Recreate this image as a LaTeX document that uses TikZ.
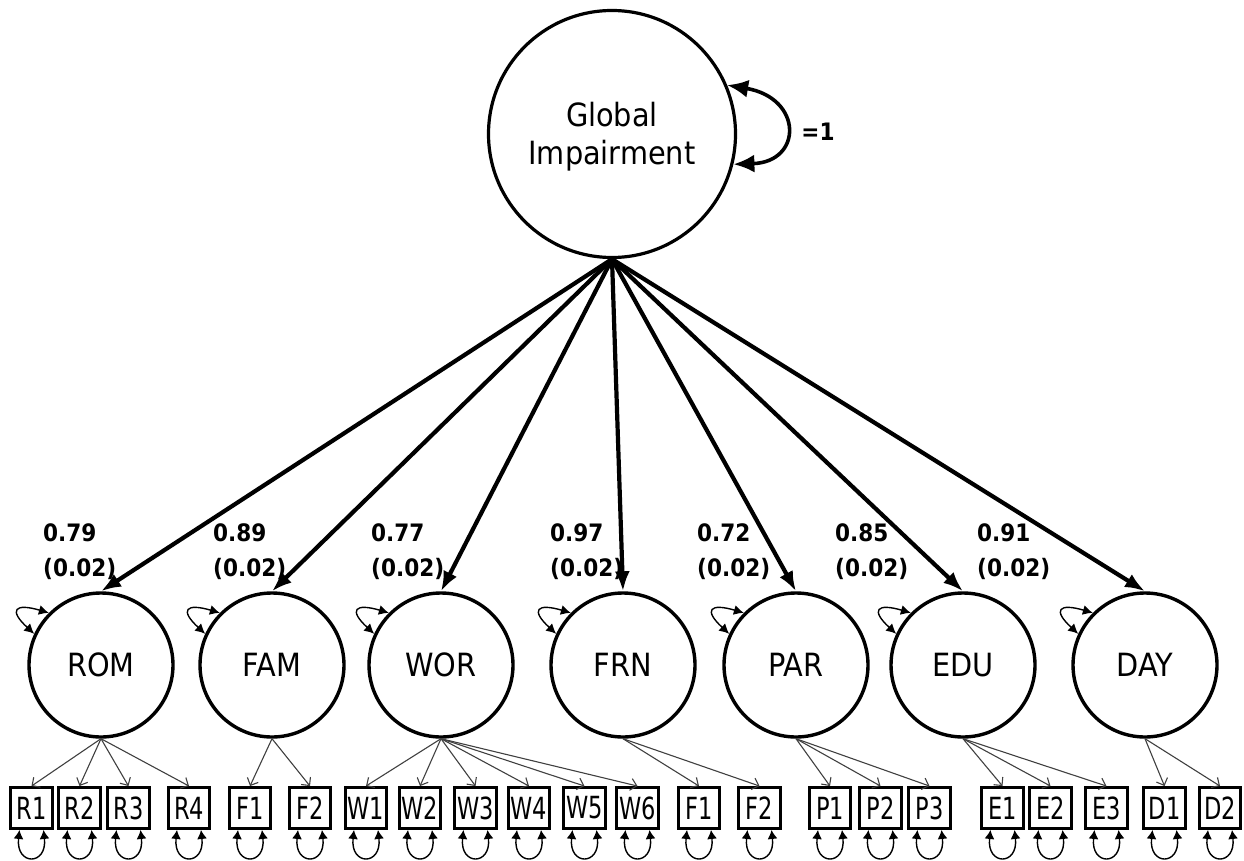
\documentclass[tikz,border=0pt]{standalone}
\usepackage{fontspec}
\usepackage{graphicx}
\setmainfont{DejaVu Sans Condensed}
\usetikzlibrary{arrows.meta,calc}
\begin{document}
\begin{tikzpicture}[x=1pt,y=-1pt,
 latent/.style={circle,draw,line width=3.4pt,minimum size=144pt,inner sep=0pt,font=\fontsize{32}{36}\selectfont},
 indic/.style={rectangle,draw,line width=3.4pt,minimum width=41.5pt,minimum height=40.5pt,inner sep=0pt,font=\fontsize{30.5}{32}\selectfont},
 load/.style={line width=4.2pt,-{Latex[length=20pt,width=15pt]}},
 meas/.style={line width=1.1pt,draw=black!75,-{Straight Barb[length=6pt,width=12pt]}},
 selfvar/.style={line width=1.4pt,{Latex[length=10pt,width=10pt]}-{Latex[length=10pt,width=10pt]}},
 resid/.style={line width=1.4pt,{Latex[length=9pt,width=10pt]}-{Latex[length=9pt,width=10pt]}},
 lab/.style={anchor=north west,align=left,font=\bfseries\fontsize{24}{35}\selectfont,inner sep=0pt}]
\useasboundingbox (0,0) rectangle (1244,861);

\node[circle,draw,line width=3.2pt,minimum size=247pt,inner sep=0pt] (g) at (612,134) {};
\node[align=center,inner sep=0pt,font=\fontsize{32}{38}\selectfont] (gt) at (612,137) {Global\\Impairment};
\draw[line width=3.6pt,{Latex[length=21pt,width=18pt]}-{Latex[length=21pt,width=18pt]}] (g.23) .. controls (803,98) and (803,162) .. (g.-14);
\node[font=\bfseries\fontsize{24}{28}\selectfont] (one) at (818,132) {=1};

\foreach \n/\x/\t in {rom/101/ROM, fam/272/FAM, wor/441/WOR, frn/623/FRN, par/796/PAR, edu/963/EDU, day/1145/DAY}{
  \node[latent] (\n) at (\x,665) {\t};
  \draw[selfvar] (\n.135) .. controls +(-34,-10) and +(-26,-24) .. (\n.155);
  \draw[load] (g.south) -- (\n.north);
}

\node[lab] (l1) at (43,523) {0.79\\(0.02)};
\node[lab] (l2) at (213,523) {0.89\\(0.02)};
\node[lab] (l3) at (371,523) {0.77\\(0.02)};
\node[lab] (l4) at (550,523) {0.97\\(0.02)};
\node[lab] (l5) at (697,523) {0.72\\(0.02)};
\node[lab] (l6) at (835,523) {0.85\\(0.02)};
\node[lab] (l7) at (977,523) {0.91\\(0.02)};

\foreach \n/\x/\t in {r1/31.5/R1, r2/79.5/R2, r3/128.5/R3, r4/189/R4, fa1/250/F1, fa2/310/F2,
  w1/366/W1, w2/420/W2, w3/475.5/W3, w4/529/W4, w5/584.5/W5, w6/637.5/W6,
  fr1/699/F1, fr2/759.5/F2, p1/830/P1, p2/880.5/P2, p3/929.5/P3,
  e1/1002.5/E1, e2/1050.5/E2, e3/1106.5/E3, d1/1164.5/D1, d2/1220/D2}{
  \node[indic] (\n) at (\x,808) {\scalebox{0.82}[1]{\t}};
  \draw[resid] ($(\n.south)+(-12,0)$) .. controls +(-4,36) and +(4,36) .. ($(\n.south)+(12,0)$);
}

\foreach \l/\i in {rom/r1, rom/r2, rom/r3, rom/r4, fam/fa1, fam/fa2,
  wor/w1, wor/w2, wor/w3, wor/w4, wor/w5, wor/w6, frn/fr1, frn/fr2,
  par/p1, par/p2, par/p3, edu/e1, edu/e2, edu/e3, day/d1, day/d2}{
  \draw[meas] (\l.south) -- (\i.north);
}
\end{tikzpicture}
\end{document}
